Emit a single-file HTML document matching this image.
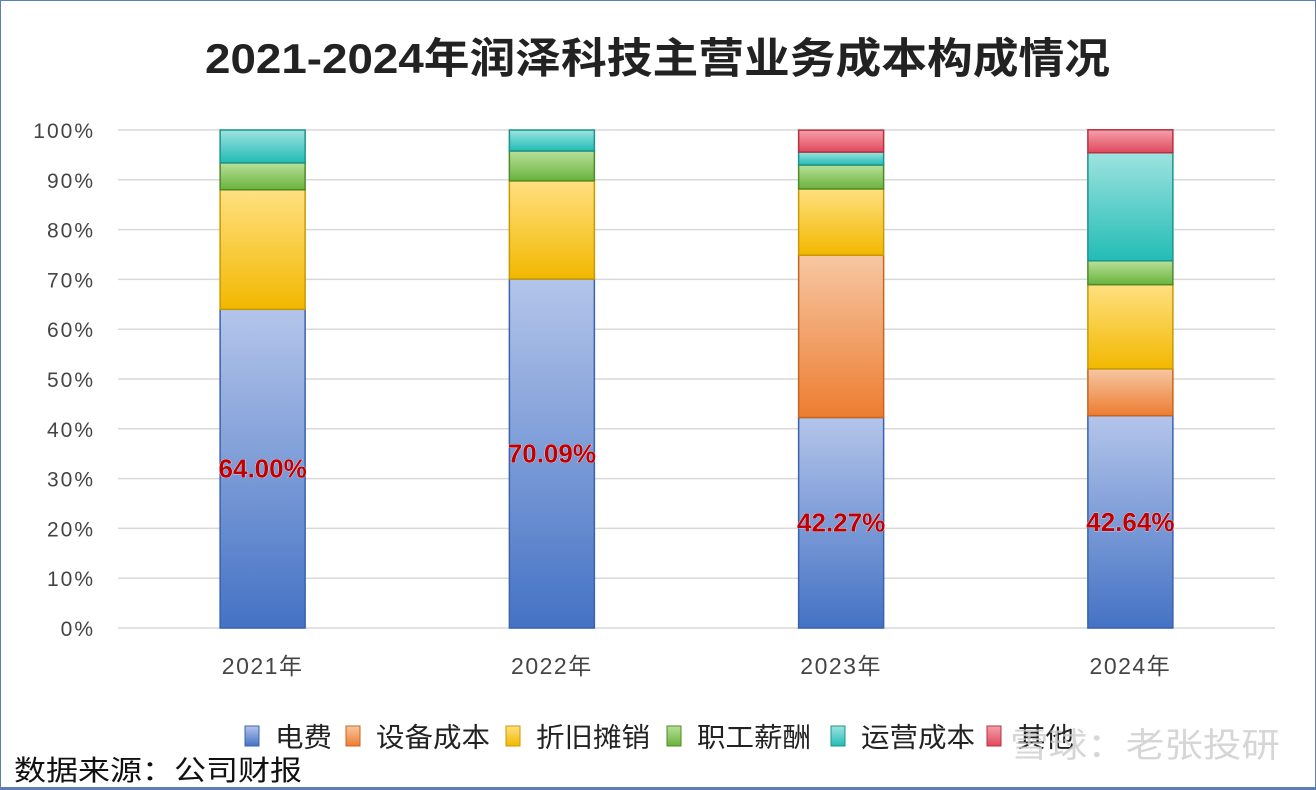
<!DOCTYPE html>
<html><head><meta charset="utf-8"><style>
html,body{margin:0;padding:0;background:#fff}
body{width:1316px;height:790px;overflow:hidden;position:relative;font-family:"Liberation Sans","Noto Sans CJK SC",sans-serif}
#frame{position:absolute;left:0;top:0;width:1314px;height:786px;border:1px solid #5b7db8;border-bottom-width:3px}
</style></head><body>
<div id="frame"></div>
<svg id="chart" width="1316" height="790" style="position:absolute;left:0;top:0">
<defs>
<linearGradient id="g0" x1="0" y1="0" x2="0" y2="1"><stop offset="0" stop-color="#b4c5ea"/><stop offset="1" stop-color="#4472c4"/></linearGradient>
<linearGradient id="g1" x1="0" y1="0" x2="0" y2="1"><stop offset="0" stop-color="#f6c7a3"/><stop offset="1" stop-color="#ed7d31"/></linearGradient>
<linearGradient id="g2" x1="0" y1="0" x2="0" y2="1"><stop offset="0" stop-color="#ffe080"/><stop offset="1" stop-color="#f2b800"/></linearGradient>
<linearGradient id="g3" x1="0" y1="0" x2="0" y2="1"><stop offset="0" stop-color="#b8e09a"/><stop offset="1" stop-color="#6ab33c"/></linearGradient>
<linearGradient id="g4" x1="0" y1="0" x2="0" y2="1"><stop offset="0" stop-color="#9ee3e0"/><stop offset="1" stop-color="#22bcb5"/></linearGradient>
<linearGradient id="g5" x1="0" y1="0" x2="0" y2="1"><stop offset="0" stop-color="#f4a0ac"/><stop offset="1" stop-color="#e0485c"/></linearGradient>
</defs>
<text x="205" y="73" textLength="905" lengthAdjust="spacingAndGlyphs" font-size="42" font-weight="bold" fill="#222">2021-2024年润泽科技主营业务成本构成情况</text>
<g id="grid"></g><g id="bars"></g><g id="labels"></g><g id="legend"></g>
<text x="14" y="780" textLength="288" lengthAdjust="spacingAndGlyphs" font-size="28" fill="#111">数据来源：公司财报</text>
<text x="1010" y="757" textLength="270" lengthAdjust="spacingAndGlyphs" font-size="34" fill="#ccc" opacity="0.8">雪球：老张投研</text>
</svg>
<script>
const categories=["2021年","2022年","2023年","2024年"];
const seriesNames=["电费","设备成本","折旧摊销","职工薪酬","运营成本","其他"];
const s0=[64.00,70.09,42.27,42.64];
const s1=[0,0,32.6,9.4];
const s2=[24.0,19.7,13.3,16.9];
const s3=[5.4,6.0,4.8,4.8];
const s4=[6.6,4.2,2.6,21.7];
const s5=[0,0,4.4,4.6];
const dataLabels=["64.00%","70.09%","42.27%","42.64%"];
const yTicks=[0,10,20,30,40,50,60,70,80,90,100];
const series=[s0,s1,s2,s3,s4,s5];
const strokes=["#3a62b0","#c8641e","#c89a00","#4f8a2a","#1a948e","#b83040"];
const ns="http://www.w3.org/2000/svg";
const x0=118,x1=1275,yB=628,yT=130,bw=85;
const y=v=>yB-(yB-yT)*v/100;
const xc=i=>x0+(x1-x0)*(i+0.5)/categories.length;
function mk(t,a,p){const e=document.createElementNS(ns,t);for(const k in a)e.setAttribute(k,a[k]);p.appendChild(e);return e;}
const grid=document.getElementById('grid');
yTicks.forEach(t=>{
 const l=mk('line',{x1:x0,x2:x1,y1:y(t),y2:y(t),stroke:'#d9d9d9','stroke-width':1.5},grid);
 
 
 const tx=mk('text',{x:95,y:y(t)+8,'text-anchor':'end','font-size':21,fill:'#444','letter-spacing':2},grid);
 tx.textContent=t+'%';
 
 
});
const bars=document.getElementById('bars'),labels=document.getElementById('labels');
categories.forEach((c,i)=>{
 let acc=0;
 series.forEach((s,k)=>{
  const v=s[i];
  if(v>0){
   const r=mk('rect',{x:xc(i)-bw/2,y:y(acc+v),width:bw,height:y(acc)-y(acc+v),fill:'url(#g'+k+')',stroke:strokes[k],'stroke-width':1.5},bars);
   
   
  }
  acc+=v;
 });
 const tx=mk('text',{x:xc(i),y:y(s0[i]/2)+9,'text-anchor':'middle','font-size':26,'font-weight':'bold',fill:'#c00000',stroke:'#fff','stroke-width':0.6,'paint-order':'stroke'},labels);
 tx.textContent=dataLabels[i];
 
 
 const xl=mk('text',{x:xc(i),y:674,'text-anchor':'middle','font-size':23,fill:'#444','letter-spacing':1.5},labels);
 xl.textContent=c;
 
 
});
const leg=document.getElementById('legend');
const lx=[245,346,506,667,831,987];
seriesNames.forEach((n,k)=>{
 const g=mk('g',{},leg);
 
 
 mk('rect',{x:lx[k],y:726,width:14,height:20,fill:'url(#g'+k+')',stroke:strokes[k]},g);
 const t=mk('text',{x:lx[k]+30,y:747,'font-size':27,fill:'#222',textLength:n.length*28.5,lengthAdjust:'spacingAndGlyphs'},g);
 t.textContent=n;
});
</script>
</body></html>
